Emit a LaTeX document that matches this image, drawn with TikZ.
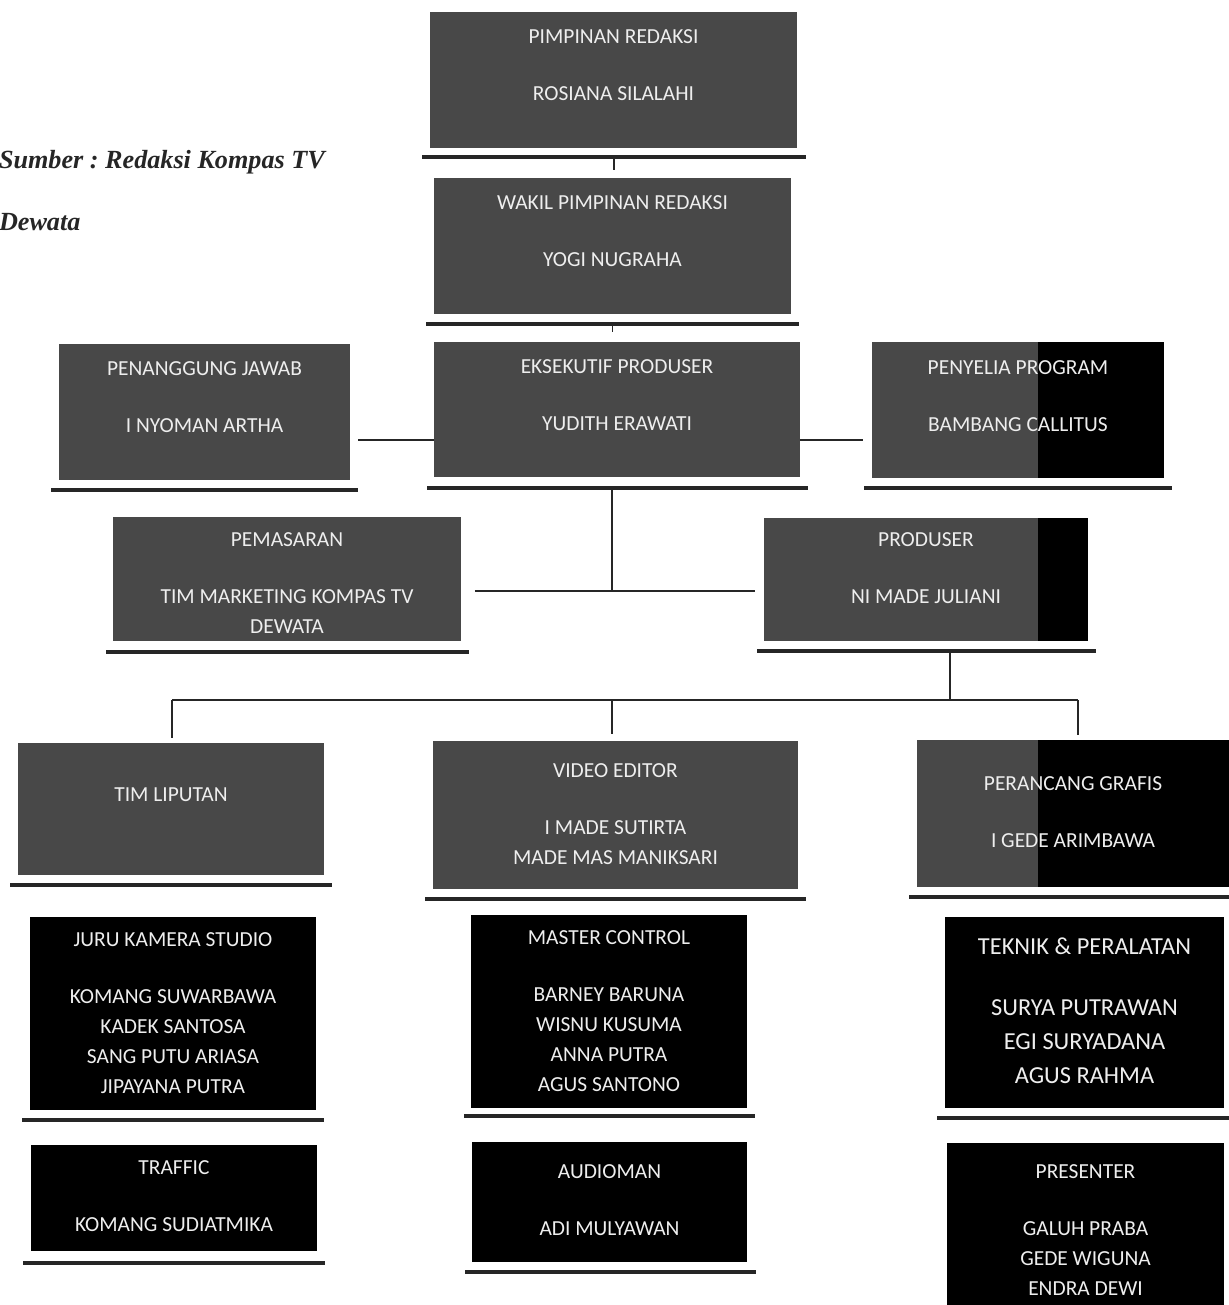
\documentclass[tikz,border=0pt]{standalone}
\usepackage{fontspec}
\setmainfont{Carlito}
\newfontfamily\srcfont{Liberation Serif}
\usetikzlibrary{positioning}
\definecolor{boxgray}{RGB}{72,72,72}
\definecolor{txtwhite}{RGB}{238,238,238}

\begin{document}
\begin{tikzpicture}[
    x=0.02cm, y=-0.02cm,
    every node/.style={inner sep=0pt, outer sep=0pt},
    gbox/.style={rectangle, fill=boxgray},
    kbox/.style={rectangle, fill=black},
    txt/.style={text=txtwhite, align=center, font=\fontsize{12.2}{17}\selectfont},
    bigtxt/.style={txt, font=\fontsize{13.9}{19.4}\selectfont},
    src/.style={anchor=base west, text=black!85, font=\srcfont\bfseries\itshape\fontsize{14.9}{18}\selectfont\frenchspacing},
    uline/.style={line width=1.9pt, black!85},
    conn/.style={line width=1.1pt, black!85}
]
\fill[white] (0,0) rectangle (1229,1305);
\useasboundingbox (0,0) rectangle (1229,1305);

% source note
\node[src] (srcA) at (-1,168) {Sumber : Redaksi Kompas TV};
\node[src] (srcB) at (-1,230) {Dewata};

% boxes
\node[gbox, minimum width=7.34cm, minimum height=2.72cm] (pim)    at (613.5,80)   {};
\node[gbox, minimum width=7.14cm, minimum height=2.72cm] (wakil)  at (612.5,246)  {};
\node[gbox, minimum width=7.32cm, minimum height=2.70cm] (eks)    at (617,409.5)  {};
\node[gbox, minimum width=5.82cm, minimum height=2.72cm] (pj)     at (204.5,412)  {};
\node[gbox, minimum width=5.84cm, minimum height=2.72cm] (pp)     at (1018,410)   {};
\node[gbox, minimum width=6.96cm, minimum height=2.48cm] (pem)    at (287,579)    {};
\node[gbox, minimum width=6.48cm, minimum height=2.46cm] (prod)   at (926,579.5)  {};
\node[gbox, minimum width=6.12cm, minimum height=2.64cm] (tim)    at (171,809)    {};
\node[gbox, minimum width=7.30cm, minimum height=2.96cm] (video)  at (615.5,815)  {};
\node[gbox, minimum width=6.24cm, minimum height=2.94cm] (grafis) at (1073,813.5) {};
\node[kbox, minimum width=5.72cm, minimum height=3.86cm] (juru)   at (173,1013.5) {};
\node[kbox, minimum width=5.52cm, minimum height=3.86cm] (master) at (609,1011.5) {};
\node[kbox, minimum width=5.58cm, minimum height=3.82cm] (teknik) at (1084.5,1012.5) {};
\node[kbox, minimum width=5.72cm, minimum height=2.12cm] (traffic) at (174,1198)  {};
\node[kbox, minimum width=5.50cm, minimum height=2.40cm] (audio)  at (609.5,1202) {};
\node[kbox, minimum width=5.54cm, minimum height=3.34cm] (presenter) at (1085.5,1226.5) {};

% darker right part of the scan
\coordinate (scanEdge) at (1038,0);
\fill[black] (pp.north -| scanEdge) rectangle (pp.south east);
\fill[black] (prod.north -| scanEdge) rectangle (prod.south east);
\fill[black] (grafis.north -| scanEdge) rectangle (grafis.south east);

% texts
\node[txt, below=0.36cm of pim.north]    (pimT)    {PIMPINAN REDAKSI\\[0.54cm]ROSIANA SILALAHI};
\node[txt, below=0.36cm of wakil.north]  (wakilT)  {WAKIL PIMPINAN REDAKSI\\[0.54cm]YOGI NUGRAHA};
\node[txt, below=0.36cm of eks.north]    (eksT)    {EKSEKUTIF PRODUSER\\[0.54cm]YUDITH ERAWATI};
\node[txt, below=0.36cm of pj.north]     (pjT)     {PENANGGUNG JAWAB\\[0.54cm]I NYOMAN ARTHA};
\node[txt, below=0.38cm of pp.north]     (ppT)     {PENYELIA PROGRAM\\[0.54cm]BAMBANG CALLITUS};
\node[txt, below=0.32cm of pem.north]    (pemT)    {PEMASARAN\\[0.54cm]TIM MARKETING KOMPAS TV\\DEWATA};
\node[txt, below=0.30cm of prod.north]   (prodT)   {PRODUSER\\[0.54cm]NI MADE JULIANI};
\node[txt, below=0.90cm of tim.north]    (timT)    {TIM LIPUTAN};
\node[txt, below=0.46cm of video.north]  (videoT)  {VIDEO EDITOR\\[0.54cm]I MADE SUTIRTA\\MADE MAS MANIKSARI};
\node[txt, below=0.74cm of grafis.north] (grafisT) {PERANCANG GRAFIS\\[0.54cm]I GEDE ARIMBAWA};
\node[txt, below=0.32cm of juru.north]   (juruT)   {JURU KAMERA STUDIO\\[0.54cm]KOMANG SUWARBAWA\\KADEK SANTOSA\\SANG PUTU ARIASA\\JIPAYANA PUTRA};
\node[txt, below=0.32cm of master.north] (masterT) {MASTER CONTROL\\[0.54cm]BARNEY BARUNA\\WISNU KUSUMA\\ANNA PUTRA\\AGUS SANTONO};
\node[bigtxt, below=0.42cm of teknik.north] (teknikT) {TEKNIK \& PERALATAN\\[0.54cm]SURYA PUTRAWAN\\EGI SURYADANA\\AGUS RAHMA};
\node[txt, below=0.32cm of traffic.north] (trafficT) {TRAFFIC\\[0.54cm]KOMANG SUDIATMIKA};
\node[txt, below=0.46cm of audio.north]  (audioT)  {AUDIOMAN\\[0.54cm]ADI MULYAWAN};
\node[txt, below=0.44cm of presenter.north] (presenterT) {PRESENTER\\[0.54cm]GALUH PRABA\\GEDE WIGUNA\\ENDRA DEWI};

% underlines
\draw[uline] ([shift={(-8,9)}]pim.south west) -- coordinate (pimU) ([shift={(9,9)}]pim.south east);
\draw[uline] ([shift={(-8,10)}]wakil.south west) -- coordinate (wakilU) ([shift={(8,10)}]wakil.south east);
\draw[uline] ([shift={(-7,11)}]eks.south west) -- coordinate (eksU) ([shift={(8,11)}]eks.south east);
\draw[uline] ([shift={(-8,10)}]pj.south west) -- ([shift={(8,10)}]pj.south east);
\draw[uline] ([shift={(-8,10)}]pp.south west) -- ([shift={(8,10)}]pp.south east);
\draw[uline] ([shift={(-7,11)}]pem.south west) -- ([shift={(8,11)}]pem.south east);
\draw[uline] ([shift={(-7,10)}]prod.south west) -- coordinate (prodU) ([shift={(8,10)}]prod.south east);
\draw[uline] ([shift={(-8,10)}]tim.south west) -- ([shift={(8,10)}]tim.south east);
\draw[uline] ([shift={(-8,10)}]video.south west) -- ([shift={(8,10)}]video.south east);
\draw[uline] ([shift={(-8,10)}]grafis.south west) -- ([shift={(8,10)}]grafis.south east);
\draw[uline] ([shift={(-8,10)}]juru.south west) -- ([shift={(8,10)}]juru.south east);
\draw[uline] ([shift={(-7,8)}]master.south west) -- ([shift={(8,8)}]master.south east);
\draw[uline] ([shift={(-8,10)}]teknik.south west) -- ([shift={(8,10)}]teknik.south east);
\draw[uline] ([shift={(-8,12)}]traffic.south west) -- ([shift={(8,12)}]traffic.south east);
\draw[uline] ([shift={(-7,10)}]audio.south west) -- ([shift={(9,10)}]audio.south east);

% connectors
\coordinate (side) at (612,440);
\coordinate (hub1) at (612,591);
\coordinate (hub2) at (950,700);
\coordinate (dropL) at (172,700);
\coordinate (dropM) at (612,700);
\coordinate (dropR) at (1078,700);
\draw[conn, shorten >=0.16cm] (pimU) -- (pimU |- wakil.north);
\draw[conn, shorten >=0.2cm] (wakilU) -- (wakilU |- eks.north);
\draw[conn, shorten >=0.16cm] (side -| eks.west) -- (side -| pj.east);
\draw[conn, shorten >=0.18cm] (side -| eks.east) -- (side -| pp.west);
\draw[conn] (eksU -| hub1) -- (hub1);
\draw[conn, shorten <=0.28cm, shorten >=0.18cm] (hub1 -| pem.east) -- (hub1 -| prod.west);
\draw[conn] (prodU -| hub2) -- (hub2);
\draw[conn] (dropL) -- (dropR);
\draw[conn, shorten >=0.1cm] (dropL) -- (dropL |- tim.north);
\draw[conn, shorten >=0.14cm] (dropM) -- (dropM |- video.north);
\draw[conn, shorten >=0.1cm] (dropR) -- (dropR |- grafis.north);
\end{tikzpicture}
\end{document}
